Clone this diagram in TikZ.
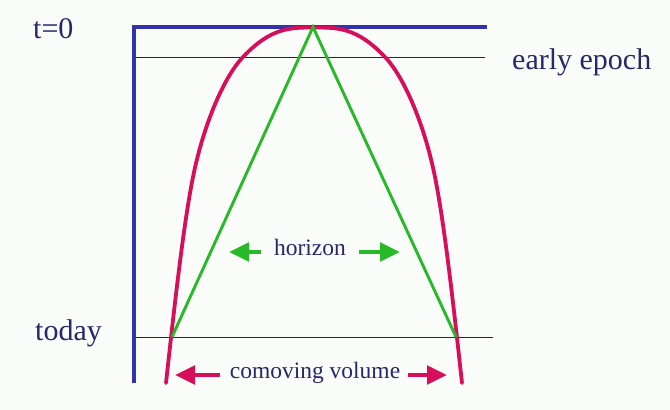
\documentclass[tikz,border=0pt]{standalone}
\usepackage{fontspec}
\setmainfont{Liberation Serif}
\usetikzlibrary{arrows.meta}
\definecolor{txt}{RGB}{40,40,105}
\definecolor{frameblue}{RGB}{50,50,170}
\definecolor{crim}{RGB}{215,15,90}
\definecolor{grn}{RGB}{40,185,40}
\definecolor{bgc}{RGB}{249,252,249}
\definecolor{thin}{RGB}{40,40,40}
\tikzset{
  lbl/.style={text=txt, inner sep=0pt},
  bigfont/.style={font=\fontsize{30}{32}\selectfont},
  smallfont/.style={font=\fontsize{23.5}{25}\selectfont},
  epochline/.style={draw=thin, line width=1pt},
  frameline/.style={draw=frameblue, line width=4pt},
  volcurve/.style={draw=crim, line width=3.8pt, line cap=round},
  horizonline/.style={draw=grn, line width=2.9pt},
  fatarrow/.style={line width=4.8pt, -{Triangle[length=20pt,width=18pt]}},
}
\begin{document}
\begin{tikzpicture}[x=1pt,y=-1pt]
\fill[bgc] (0,0) rectangle (670,410);
\useasboundingbox (0,0) rectangle (670,410);

% coordinates
\coordinate (corner) at (134,27);
\coordinate (topend) at (487,27);
\coordinate (axbot) at (134,383);
\coordinate (ee0) at (134,57.5);
\coordinate (ee1) at (485,57.5);
\coordinate (td0) at (134,337);
\coordinate (td1) at (493,337);
\coordinate (apex) at (313,27);
\coordinate (gl) at (172,337);
\coordinate (gr) at (456,337);
\coordinate (vbl) at (166,383);
\coordinate (vbr) at (462,383);

% thin epoch lines
\draw[epochline] (ee0) -- (ee1);
\draw[epochline] (td0) -- (td1);

% blue frame
\draw[frameline] (axbot) -- (corner) -- (topend);

% comoving volume curve
\draw[volcurve] (vbl) .. controls (173.7,313) and (183,227) .. (193,177)
  .. controls (203,127) and (223,78) .. (243,57)
  .. controls (271,27.5) and (290,27.5) .. (314,27.5)
  .. controls (338,27.5) and (357,27.5) .. (385,57)
  .. controls (405,78) and (425,127) .. (435,177)
  .. controls (445,227) and (454.3,313) .. (vbr);

% horizon lines
\draw[horizonline] (gl) -- (apex) -- (gr);

% labels
\node[lbl, bigfont, anchor=base west] (t0) at (33,38) {t=0};
\node[lbl, bigfont, anchor=base west] (early) at (512,69) {early epoch};
\node[lbl, bigfont, anchor=base west] (today) at (35,340) {today};
\node[lbl, smallfont, anchor=base] (hor) at (310,255) {horizon};
\node[lbl, smallfont, anchor=base] (vol) at (315,378) {comoving volume};

% arrows
\coordinate (hlt) at (229,252);
\coordinate (hrt) at (400,252);
\coordinate (vlt) at (175,375);
\coordinate (vrt) at (447,375);
\draw[fatarrow, grn] ([xshift=-13pt]hor.west |- hlt) -- (hlt);
\draw[fatarrow, grn] ([xshift=13pt]hor.east |- hrt) -- (hrt);
\draw[fatarrow, crim] ([xshift=-10pt]vol.west |- vlt) -- (vlt);
\draw[fatarrow, crim] ([xshift=8pt]vol.east |- vrt) -- (vrt);
\end{tikzpicture}
\end{document}
